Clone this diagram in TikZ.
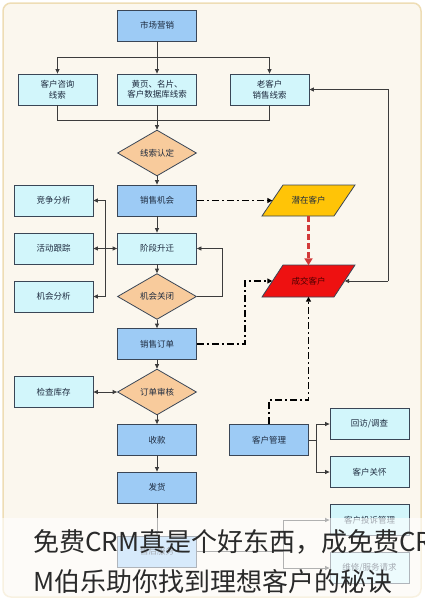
\documentclass[tikz,border=0pt]{standalone}
\usepackage{fontspec}
\setmainfont{Noto Sans CJK SC}
\usetikzlibrary{shapes.geometric,arrows.meta}
\definecolor{bgfill}{HTML}{FBF7EE}
\definecolor{bgline}{HTML}{EEDDB5}
\definecolor{boxline}{HTML}{3A4656}
\definecolor{bblue}{HTML}{9DCBF5}
\definecolor{bcyan}{HTML}{D2F6FB}
\definecolor{borange}{HTML}{F8CB9C}
\definecolor{pyellow}{HTML}{FFC407}
\definecolor{dred}{HTML}{EE1111}
\definecolor{rdash}{HTML}{D23A3A}
\definecolor{labtext}{HTML}{1E2B3F}
\definecolor{conn}{HTML}{3C3C3C}
\definecolor{captext}{HTML}{2A2A2A}
\newcommand{\lab}{\fontsize{8.5}{10.5}\selectfont}
\tikzset{
  box/.style={draw=boxline, line width=0.8pt, minimum width=79pt, minimum height=31pt,
    inner sep=1pt, font=\lab, align=center, text=labtext},
  bluebox/.style={box, fill=bblue},
  cyanbox/.style={box, fill=bcyan},
  dia/.style={diamond, draw=boxline, line width=0.8pt, fill=borange, minimum width=79pt,
    minimum height=32pt, inner sep=1pt, font=\lab, text=labtext},
  plain/.style={minimum width=72pt, minimum height=31pt, inner sep=0pt, font=\lab, text=labtext},
  ln/.style={draw=conn, line width=0.8pt},
  arr/.style={ln, -{Triangle[length=4.5pt,width=4pt]}},
  arrb/.style={ln, {Triangle[length=4.5pt,width=4pt]}-{Triangle[length=4.5pt,width=4pt]}},
  dd/.style={draw=black, line width=1.8pt, dash pattern=on 7pt off 3pt on 2pt off 3pt,
    -{Triangle[length=5pt,width=5pt]}},
  reddash/.style={draw=rdash, line width=3pt, dash pattern=on 6pt off 3pt,
    -{Triangle[length=7pt,width=8pt,fill=rdash]}},
  captxt/.style={font=\fontsize{26}{30}\selectfont, text=captext, inner sep=0pt, anchor=base west}
}
\begin{document}
\begin{tikzpicture}[x=1pt,y=-1pt]
\useasboundingbox (0,0) rectangle (424,600);
\filldraw[fill=bgfill, draw=bgline, line width=1.5pt, rounded corners=8pt] (3,3) rectangle (421,597);

% nodes
\node[bluebox] (mkt) at (157,25.5) {市场营销};
\node[cyanbox] (c1) at (57.5,89.5) {客户咨询\\线索};
\node[cyanbox] (c2) at (157,89.5) {黄页、名片、\\客户数据库线索};
\node[cyanbox] (c3) at (269.5,89.5) {老客户\\销售线索};
\node[dia] (d1) at (157,153) {线索认定};
\node[bluebox] (opp) at (157,200.5) {销售机会};
\node[cyanbox] (comp) at (53.5,200.5) {竞争分析};
\node[cyanbox] (act) at (53.5,248.5) {活动跟踪};
\node[cyanbox] (oa) at (53.5,296.5) {机会分析};
\node[cyanbox] (stage) at (157,248.5) {阶段升迁};
\node[dia] (d2) at (157,296.5) {机会关闭};
\node[bluebox] (order) at (157,344) {销售订单};
\node[cyanbox] (stock) at (53.5,392) {检查库存};
\node[dia] (d3) at (157,392) {订单审核};
\node[bluebox] (pay) at (157,440) {收款};
\node[bluebox] (ship) at (157,487.5) {发货};
\node[bluebox] (after) at (157,551.5) {售后服务};
\node[bluebox] (cm) at (269,440) {客户管理};
\node[cyanbox] (visit) at (369.5,424) {回访/调查};
\node[cyanbox] (care) at (369.5,472) {客户关怀};
\node[cyanbox] (compl) at (369.5,520) {客户投诉管理};
\node[cyanbox] (repair) at (369.5,568) {维修/服务请求};

% parallelograms
\filldraw[fill=pyellow, draw=boxline, line width=0.8pt] (262,216) -- (283,185) -- (355,185) -- (334,216) -- cycle;
\node[plain] (pot) at (308.5,200.5) {潜在客户};
\filldraw[fill=dred, draw=boxline, line width=0.8pt] (262,297) -- (283,265) -- (355,265) -- (334,297) -- cycle;
\node[plain, text=black!70!red] (deal) at (308.5,281) {成交客户};

% top connectors
\coordinate (j1) at (157,57);
\draw[ln] (mkt.south) -- (j1);
\draw[arr] (j1) -- (c2.north);
\draw[arr] (j1) -| (c1.north);
\draw[arr] (j1) -| (c3.north);
\draw[ln] (c1.south) -- ++(0,15) -| (c3.south);
\draw[arr] (c2.south) -- (d1.north);

% main column
\draw[arr] (d1.south) -- (opp.north);
\draw[arr] (opp.south) -- (stage.north);
\draw[arr] (stage.south) -- (d2.north);
\draw[arr] (d2.south) -- (order.north);
\draw[arr] (order.south) -- (d3.north);
\draw[arr] (d3.south) -- (pay.north);
\draw[arr] (pay.south) -- (ship.north);
\draw[arr] (ship.south) -- (after.north);

% left side
\coordinate (lv) at (105,248.5);
\draw[arr] (lv) |- (comp.east);
\draw[arr] (lv) |- (oa.east);
\draw[arrb] (act.east) -- (stage.west);
\draw[arr] (d2.east) -- ++(25,0) |- (stage.east);
\draw[arrb] (stock.east) -- (d3.west);

% dash-dot links
\draw[dd] (opp.east) -- (pot.west);
\draw[reddash] (pot.south) -- (deal.north);
\draw[dd] (order.east) -- ++(48,0) |- (deal.west);
\draw[dd] (cm.north) -- ++(0,-24) -| (deal.south);

% right return line
\coordinate (rb) at (388,281);
\draw[arr] (rb) -- (deal.east);
\draw[arr] (rb) |- (c3.east);

% customer management
\coordinate (cmj) at (316,440);
\draw[ln] (cm.east) -- (cmj);
\draw[arr] (cmj) |- (visit.west);
\draw[arr] (cmj) |- (care.west);

% after service
\coordinate (afj) at (283,551.5);
\draw[ln] (after.east) -- (afj);
\draw[arr] (afj) |- (compl.west);
\draw[arr] (afj) |- (repair.west);

% caption overlay
\fill[white, opacity=0.6] (0,518) rectangle (424,600);
\node[captxt] (cap1) at (33,551) {免费CRM真是个好东西，成免费CR};
\node[captxt] (cap2) at (33,591) {M伯乐助你找到理想客户的秘诀};
\end{tikzpicture}
\end{document}
